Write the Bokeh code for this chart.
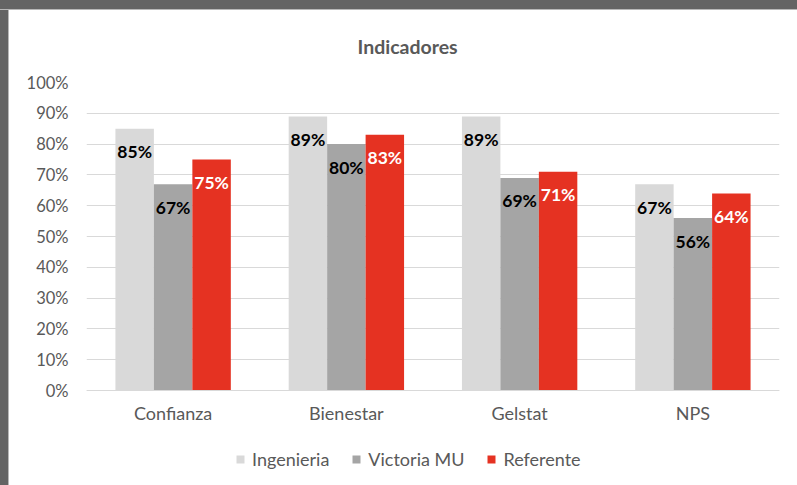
from bokeh.plotting import figure
from bokeh.models import (ColumnDataSource, FixedTicker, NumeralTickFormatter, Range1d,
                          Legend, LegendItem, Div)
from bokeh.layouts import column, row
from bokeh.transform import dodge
from bokeh.core.properties import value
from bokeh.embed import file_html
from bokeh.resources import INLINE

categories = ["Confianza", "Bienestar", "Gelstat", "NPS"]
series_names = ["Ingenieria", "Victoria MU", "Referente"]
ingenieria = [0.85, 0.89, 0.89, 0.67]
victoria = [0.67, 0.80, 0.69, 0.56]
referente = [0.75, 0.83, 0.71, 0.64]
y_ticks = [0.0, 0.1, 0.2, 0.3, 0.4, 0.5, 0.6, 0.7, 0.8, 0.9, 1.0]

colors = ["#d9d9d9", "#a5a5a5", "#e53222"]
label_colors = ["#000000", "#000000", "#ffffff"]
FONT = "Lato"
TXT = "#595959"

def pct(vals):
    return [f"{round(v * 100)}%" for v in vals]

source = ColumnDataSource(dict(
    cat=categories,
    ing=ingenieria, vic=victoria, ref=referente,
    ing_lbl=pct(ingenieria), vic_lbl=pct(victoria), ref_lbl=pct(referente),
))

# frame extends below 0 so that the legend sits inside it; x axis is pinned at y=0
p = figure(x_range=categories, y_range=Range1d(-0.2922, 1.0), width=788, height=475,
           output_backend="svg", toolbar_location=None,
           min_border_left=77, min_border_right=18, min_border_top=72, min_border_bottom=5)
p.outline_line_color = None
p.background_fill_color = "white"
p.border_fill_color = "white"

p.title.text = "Indicadores"
p.title.align = "left"
p.title.offset = 271
p.title.vertical_align = "top"
p.title.text_font = FONT
p.title.text_font_size = "19.5px"
p.title.text_font_style = "bold"
p.title.text_color = TXT
p.title.standoff = 46

bw = 0.222
offsets = [-bw, 0.0, bw]
cols = ["ing", "vic", "ref"]
items = []
for name, col, off, c, lc in zip(series_names, cols, offsets, colors, label_colors):
    r = p.vbar(x=dodge("cat", off, range=p.x_range), top=col, width=bw, source=source,
               fill_color=c, line_color=None)
    items.append(LegendItem(label=name, renderers=[r]))
    p.text(x=dodge("cat", off, range=p.x_range), y=col, text=col + "_lbl", source=source,
           text_align="center", text_baseline="middle", y_offset=23,
           text_font=value(FONT), text_font_style="bold", text_font_size="17.5px",
           text_color=lc)

p.xgrid.grid_line_color = None
p.ygrid.grid_line_color = "#d9d9d9"
p.ygrid.grid_line_width = 1

p.yaxis.ticker = FixedTicker(ticks=y_ticks)
p.yaxis.formatter = NumeralTickFormatter(format="0%")
p.yaxis.axis_line_color = None
p.yaxis.major_tick_line_color = None
p.yaxis.minor_tick_line_color = None
p.yaxis.major_tick_out = 0
p.yaxis.major_tick_in = 0
p.yaxis.major_label_standoff = 18
p.yaxis.major_label_text_font = FONT
p.yaxis.major_label_text_font_size = "16.5px"
p.yaxis.major_label_text_color = TXT

p.xaxis.fixed_location = 0
p.xaxis.axis_line_color = "#d9d9d9"
p.xaxis.major_tick_line_color = None
p.xaxis.minor_tick_line_color = None
p.xaxis.major_tick_out = 0
p.xaxis.major_tick_in = 0
p.xaxis.major_label_standoff = 11
p.xaxis.major_label_text_font = FONT
p.xaxis.major_label_text_font_size = "18px"
p.xaxis.major_label_text_color = TXT

legend = Legend(items=items, orientation="horizontal", location=(149, 10),
                border_line_color=None, background_fill_alpha=0, padding=0, margin=0,
                glyph_width=10, glyph_height=10, spacing=22, label_standoff=7,
                label_text_font=FONT, label_text_font_size="18px", label_text_color=TXT)
p.add_layout(legend, "center")

top_bar = Div(text="", width=797, height=10, margin=0,
              styles={"background": "linear-gradient(to bottom, #646464 0px, #646464 9px, #b8b8b8 9px, #b8b8b8 10px)"})
left_bar = Div(text="", width=9, height=475, margin=0,
               styles={"background": "linear-gradient(to right, #646464 0px, #646464 8px, #b8b8b8 8px, #b8b8b8 9px)"})
layout = column(top_bar, row(left_bar, p, spacing=0), spacing=0)

open("out.html", "w").write(file_html(layout, INLINE))
